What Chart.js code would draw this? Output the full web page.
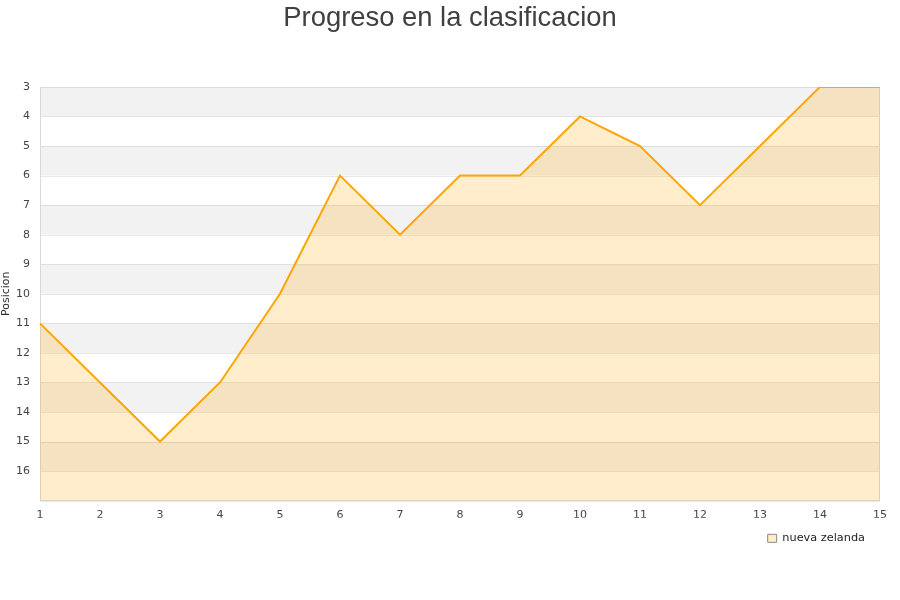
<!DOCTYPE html>
<html>
<head>
<meta charset="utf-8">
<script src="https://cdn.jsdelivr.net/npm/chart.js@4/dist/chart.umd.min.js"></script>
<style>
  html, body { margin: 0; padding: 0; background: #fff; }
  #wrap { width: 900px; height: 600px; }
</style>
</head>
<body>
<div id="wrap"><canvas id="c" width="900" height="600"></canvas></div>
<script>
// Jornadas (rounds) and league position after each one
const jornadas = ['1','2','3','4','5','6','7','8','9','10','11','12','13','14','15'];
const posiciones = [11, 13, 15, 13, 10, 6, 8, 6, 6, 4, 5, 7, 5, 3, 3];
const equipo = 'nueva zelanda';
const posMin = 3;
const posMax = 17;

// Alternating horizontal bands behind the plot
const bandPlugin = {
  id: 'bands',
  beforeDatasetsDraw(chart) {
    const { ctx, chartArea, scales } = chart;
    const y = scales.y;
    ctx.save();
    for (let v = posMin; v < posMax; v += 2) {
      const y1 = y.getPixelForValue(v);
      const y2 = y.getPixelForValue(Math.min(v + 1, posMax));
      ctx.fillStyle = '#f2f2f2';
      ctx.fillRect(chartArea.left, Math.min(y1, y2), chartArea.right - chartArea.left, Math.abs(y2 - y1));
    }
    ctx.restore();
  }
};

// Gridlines and frame drawn over the bands
const gridPlugin = {
  id: 'gridOver',
  beforeDatasetsDraw(chart) {
    const { ctx, chartArea, scales } = chart;
    const y = scales.y;
    ctx.save();
    ctx.strokeStyle = 'rgba(0,0,0,0.09)';
    ctx.lineWidth = 1;
    for (let v = posMin; v <= posMax; v++) {
      const py = Math.round(y.getPixelForValue(v)) + 0.5;
      ctx.beginPath();
      ctx.moveTo(chartArea.left, py);
      ctx.lineTo(chartArea.right, py);
      ctx.stroke();
    }
    ctx.strokeStyle = '#d9d9d9';
    ctx.beginPath();
    ctx.moveTo(Math.round(chartArea.left) + 0.5, chartArea.top);
    ctx.lineTo(Math.round(chartArea.left) + 0.5, chartArea.bottom);
    ctx.moveTo(Math.round(chartArea.right) - 0.5, chartArea.top);
    ctx.lineTo(Math.round(chartArea.right) - 0.5, chartArea.bottom);
    ctx.moveTo(chartArea.left, Math.round(chartArea.bottom) - 0.5);
    ctx.lineTo(chartArea.right, Math.round(chartArea.bottom) - 0.5);
    ctx.stroke();
    ctx.restore();
  }
};

// Keep the legend's right edge aligned with the plot frame
const legendEdgePlugin = {
  id: 'legendEdge',
  afterLayout(chart) {
    if (chart.legend) chart.legend.right = chart.chartArea.right;
  }
};

new Chart(document.getElementById('c'), {
  type: 'line',
  data: {
    labels: jornadas,
    datasets: [{
      label: equipo,
      data: posiciones,
      borderColor: '#ffa500',
      borderWidth: 2,
      backgroundColor: 'rgba(255,165,0,0.2)',
      fill: 'start',
      pointRadius: 0,
      pointHoverRadius: 0,
      tension: 0
    }]
  },
  options: {
    responsive: false,
    animation: false,
    layout: { padding: { top: 0, right: 0, bottom: 46, left: 0 } },
    plugins: {
      title: {
        display: true,
        text: 'Progreso en la clasificacion',
        color: '#404040',
        font: { family: 'Liberation Sans', size: 27.4, weight: 'normal' },
        padding: { top: 2, bottom: 52 }
      },
      legend: {
        position: 'bottom',
        align: 'end',
        labels: {
          color: '#222',
          font: { family: 'DejaVu Sans', size: 11.3 },
          boxWidth: 9,
          boxHeight: 8,
          padding: 15,
          generateLabels(chart) {
            return chart.data.datasets.map((ds, i) => ({
              text: ds.label,
              fillStyle: '#ffecc8',
              strokeStyle: '#8a8a8a',
              lineWidth: 1,
              fontColor: '#222',
              datasetIndex: i,
              hidden: false
            }));
          }
        }
      },
      tooltip: { enabled: false }
    },
    scales: {
      x: {
        offset: false,
        grid: { display: false, drawTicks: false },
        border: { display: false },
        ticks: {
          color: '#444',
          font: { family: 'DejaVu Sans', size: 11 },
          padding: 8,
          maxRotation: 0,
          autoSkip: false
        },
        afterFit(s) { s.height = 17; }
      },
      y: {
        reverse: true,
        min: posMin,
        max: posMax,
        grid: { display: false, drawTicks: false },
        border: { display: false },
        title: {
          display: true,
          text: 'Posicion',
          color: '#333',
          font: { family: 'DejaVu Sans', size: 11 },
          padding: { top: 0, bottom: 0 }
        },
        ticks: {
          stepSize: 1,
          color: '#444',
          font: { family: 'DejaVu Sans', size: 11 },
          padding: 10,
          callback: (v) => (v >= posMax ? '' : v)
        },
        afterFit(s) { s.width = 40; }
      },
      // empty right-hand gutter so the plot ends 20px before the edge
      yGutter: {
        type: 'linear',
        position: 'right',
        display: true,
        grid: { display: false, drawTicks: false },
        border: { display: false },
        ticks: { display: false },
        afterFit(s) { s.width = 20; }
      }
    }
  },
  plugins: [bandPlugin, gridPlugin, legendEdgePlugin]
});
</script>
</body>
</html>
